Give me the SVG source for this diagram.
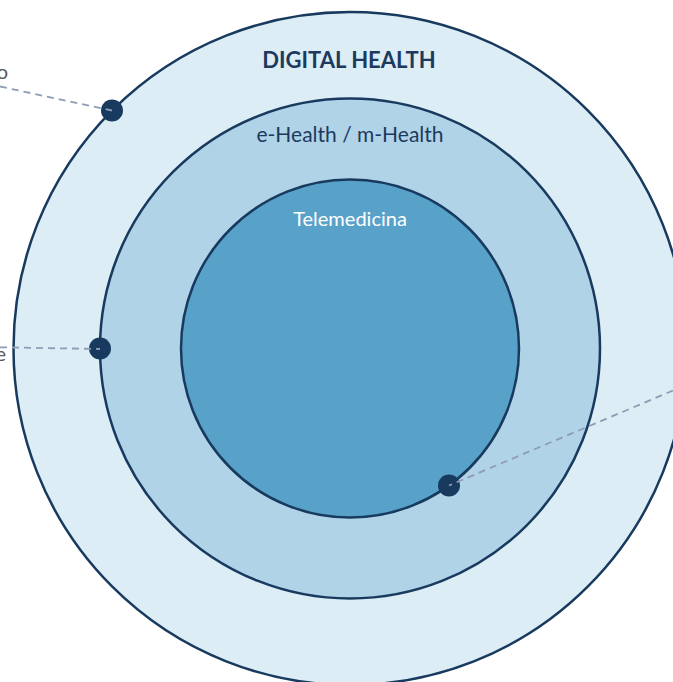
<svg xmlns="http://www.w3.org/2000/svg" width="673" height="682" viewBox="0 0 673 682">
  <style>
    .ring { stroke: #183a5e; stroke-width: 2.5; }
    .dot { fill: #183a5e; }
    .conn { fill: none; stroke: #8f9db4; stroke-width: 1.8; stroke-dasharray: 7 5; }
    .lbl { font-family: Lato, "Liberation Sans", sans-serif; font-size: 20px; fill: #595959; }
    .title { font-family: Lato, "Liberation Sans", sans-serif; font-size: 22px; font-weight: bold; fill: #1c3a5e; text-anchor: middle; }
    .mid { font-family: Lato, "Liberation Sans", sans-serif; font-size: 21px; fill: #1c3a5e; text-anchor: middle; }
    .inner { font-family: Lato, "Liberation Sans", sans-serif; font-size: 20px; fill: #ffffff; text-anchor: middle; }
  </style>
  <rect width="673" height="682" fill="#ffffff"/>
  <g id="digital-health">
    <circle class="ring" cx="350" cy="348.5" r="336.5" fill="#ddedf6"/>
    <text class="title" x="349" y="67.5">DIGITAL HEALTH</text>
  </g>
  <g id="ehealth-mhealth">
    <circle class="ring" cx="350" cy="348.5" r="250" fill="#b0d3e8"/>
    <text class="mid" x="350" y="141.5">e-Health / m-Health</text>
  </g>
  <g id="telemedicina">
    <circle class="ring" cx="350" cy="348.5" r="169" fill="#58a2c9"/>
    <text class="inner" x="350" y="226">Telemedicina</text>
  </g>
  <g id="label-top-left">
    <text class="lbl" x="8" y="78.5" text-anchor="end">o</text>
  </g>
  <g id="label-mid-left">
    <text class="lbl" x="6" y="361" text-anchor="end">e</text>
  </g>
  <g id="markers">
    <circle class="dot" cx="112" cy="110.5" r="11"/>
    <circle class="dot" cx="100" cy="348.5" r="11"/>
    <circle class="dot" cx="449" cy="485.5" r="11"/>
  </g>
  <g id="connectors">
    <line class="conn" x1="0" y1="86.5" x2="112" y2="110.5"/>
    <line class="conn" x1="0" y1="347.3" x2="100" y2="349"/>
    <line class="conn" x1="673" y1="390.5" x2="449" y2="485.5"/>
  </g>
</svg>
